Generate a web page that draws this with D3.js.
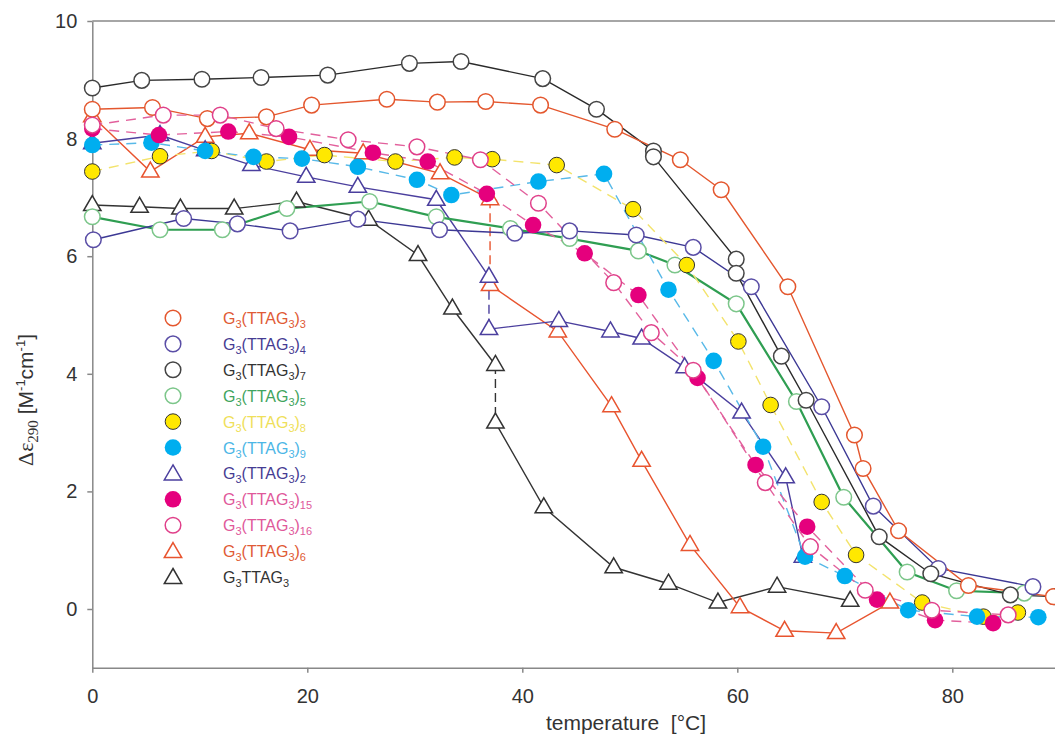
<!DOCTYPE html>
<html>
<head>
<meta charset="utf-8">
<script src="https://cdn.jsdelivr.net/npm/d3@7"></script>
<style>
  body { margin: 0; background: #fff; }
  svg { display: block; }
  text { font-family: "Liberation Sans", Arial, sans-serif; }
</style>
</head>
<body>
<svg id="chart" width="1055" height="737"></svg>
<script>
// [temperature °C, Δε290]
const g3ttag3_3 = [[0, 8.50], [5.6, 8.53], [10.7, 8.34], [16.2, 8.37], [20.4, 8.57], [27.4, 8.67], [32.1, 8.62], [36.6, 8.63], [41.7, 8.57], [48.6, 8.16], [54.7, 7.64], [58.5, 7.13], [64.7, 5.48], [70.9, 2.96], [71.7, 2.39], [75.0, 1.33], [81.5, 0.40], [89.4, 0.21]];
const g3ttag3_4 = [[0.1, 6.28], [8.5, 6.64], [13.5, 6.55], [18.4, 6.43], [24.7, 6.63], [32.3, 6.45], [39.3, 6.39], [44.4, 6.43], [50.6, 6.36], [55.9, 6.15], [61.3, 5.48], [67.85, 3.44], [72.65, 1.75], [78.7, 0.69], [87.5, 0.38]];
const g3ttag3_7 = [[0, 8.86], [4.6, 8.99], [10.2, 9.01], [15.7, 9.04], [21.9, 9.08], [29.5, 9.28], [34.3, 9.31], [41.9, 9.02], [46.9, 8.50], [52.2, 7.79], [52.2, 7.69], [59.9, 5.95], [59.9, 5.71], [64.1, 4.30], [66.4, 3.55], [73.2, 1.23], [78.0, 0.60], [85.4, 0.24], [89.5, 0.21]];
const g3ttag3_5 = [[0, 6.67], [6.3, 6.45], [12.1, 6.45], [18.1, 6.81], [25.8, 6.93], [32.0, 6.67], [38.9, 6.47], [44.4, 6.30], [50.8, 6.09], [54.2, 5.85], [59.9, 5.19], [65.5, 3.53], [69.9, 1.90], [75.8, 0.63], [80.4, 0.31], [86.7, 0.27]];
const g3ttag3_8 = [[0, 7.44], [6.3, 7.70], [11.1, 7.79], [16.2, 7.61], [21.6, 7.72], [28.2, 7.61], [33.7, 7.68], [37.2, 7.65], [43.2, 7.55], [50.3, 6.80], [55.3, 5.85], [60.1, 4.55], [63.1, 3.47], [67.85, 1.82], [71.05, 0.92], [77.2, 0.11], [82.9, -0.13], [86.1, -0.06]];
const g3ttag3_9 = [[0, 7.89], [5.5, 7.93], [10.5, 7.79], [15.0, 7.69], [19.5, 7.66], [24.7, 7.52], [30.2, 7.30], [33.4, 7.04], [41.5, 7.27], [47.6, 7.40], [53.6, 5.43], [57.8, 4.22], [62.4, 2.76], [66.3, 0.89], [70.0, 0.56], [75.9, -0.02], [82.3, -0.13], [88.0, -0.14]];
const g3ttag3_2 = [[0, 7.92], [6.3, 8.06], [10.5, 7.80], [14.8, 7.55], [19.9, 7.35], [24.7, 7.18], [32.0, 6.96], [36.9, 5.65], [36.9, 4.76], [43.4, 4.90], [48.2, 4.72], [51.1, 4.60], [55.1, 4.11], [60.4, 3.34], [64.5, 2.24], [66.1, 0.89]];
const g3ttag3_15 = [[0, 8.17], [6.2, 8.06], [12.65, 8.12], [18.3, 8.03], [26.1, 7.76], [31.2, 7.61], [36.7, 7.06], [41.0, 6.53], [45.8, 6.05], [50.8, 5.34], [56.3, 3.93], [61.7, 2.45], [66.5, 1.40], [73.0, 0.16], [78.4, -0.19], [83.8, -0.24]];
const g3ttag3_16 = [[0, 8.23], [6.6, 8.40], [11.9, 8.40], [17.1, 8.17], [23.8, 7.98], [30.2, 7.86], [36.1, 7.64], [41.5, 6.90], [48.5, 5.55], [52.0, 4.70], [55.9, 4.06], [62.6, 2.15], [66.8, 1.06], [71.9, 0.32], [78.1, -0.02], [85.2, -0.10]];
const g3ttag3_6 = [[0, 8.38], [5.4, 7.44], [10.5, 8.03], [14.6, 8.09], [20.25, 7.81], [25.2, 7.75], [32.35, 7.41], [37.0, 6.97], [37.0, 5.51], [43.3, 4.72], [48.3, 3.45], [51.1, 2.52], [55.6, 1.09], [60.25, 0.03], [64.4, -0.37], [69.2, -0.41], [74.2, 0.11]];
const g3ttag3 = [[0, 6.87], [4.4, 6.84], [8.2, 6.81], [13.2, 6.81], [19.0, 6.93], [25.7, 6.62], [30.3, 6.02], [33.5, 5.11], [37.5, 4.15], [37.5, 3.17], [42.0, 1.73], [48.5, 0.71], [53.6, 0.43], [58.2, 0.11], [63.7, 0.38], [70.5, 0.14]];

const yTicks = [0, 2, 4, 6, 8, 10];
const xTicks = [0, 20, 40, 60, 80];

// legend order as in the figure; jump = index where the 37 °C step is drawn dashed
const series = [
  { label: "G_{3}(TTAG_{3})_{3}", data: g3ttag3_3, shape: "circle", stroke: "#e4572e", fill: "#fff", line: "#e4572e", text: "#e05a35" },
  { label: "G_{3}(TTAG_{3})_{4}", data: g3ttag3_4, shape: "circle", stroke: "#5a4ea6", fill: "#fff", line: "#3c3894", text: "#463c93" },
  { label: "G_{3}(TTAG_{3})_{7}", data: g3ttag3_7, shape: "circle", stroke: "#444", fill: "#fff", line: "#2a2a2a", text: "#333" },
  { label: "G_{3}(TTAG_{3})_{5}", data: g3ttag3_5, shape: "circle", stroke: "#7cc68a", fill: "#fff", line: "#2f9e52", text: "#3fa45e", width: 2.2 },
  { label: "G_{3}(TTAG_{3})_{8}", data: g3ttag3_8, shape: "circle", stroke: "#333", fill: "#ffe800", line: "#f3e36c", text: "#efe05a", dash: "10,7", sw: 1 },
  { label: "G_{3}(TTAG_{3})_{9}", data: g3ttag3_9, shape: "dot", stroke: "none", fill: "#00aeef", line: "#58b9e8", text: "#4cb6e6", dash: "10,7" },
  { label: "G_{3}(TTAG_{3})_{2}", data: g3ttag3_2, shape: "triangle", stroke: "#4b3f9e", fill: "#fff", line: "#4b3f9e", text: "#463c93", jump: 8 },
  { label: "G_{3}(TTAG_{3})_{15}", data: g3ttag3_15, shape: "dot", stroke: "none", fill: "#e5007d", line: "#e2609c", text: "#e0589a", dash: "10,7" },
  { label: "G_{3}(TTAG_{3})_{16}", data: g3ttag3_16, shape: "circle", stroke: "#e0408a", fill: "#fff", line: "#e2609c", text: "#e0589a", dash: "10,7" },
  { label: "G_{3}(TTAG_{3})_{6}", data: g3ttag3_6, shape: "triangle", stroke: "#e8542f", fill: "#fff", line: "#e8542f", text: "#e05a35", jump: 8 },
  { label: "G_{3}TTAG_{3}", data: g3ttag3, shape: "triangle", stroke: "#333", fill: "#fff", line: "#333", text: "#333", jump: 9 }
];

const svg = d3.select("#chart");
const x = d3.scaleLinear().domain([0, 90]).range([92.3, 1059.8]);
const y = d3.scaleLinear().domain([-1, 10]).range([667.8, 21]);

// frame top line
svg.append("line")
  .attr("x1", x(0)).attr("x2", x(90))
  .attr("y1", y(10)).attr("y2", y(10))
  .attr("stroke", "#888").attr("stroke-width", 1.5);

const yAxis = svg.append("g")
  .attr("transform", `translate(${x(0)},0)`)
  .call(d3.axisLeft(y).tickValues(yTicks).tickSize(5).tickSizeOuter(0).tickPadding(10));
const xAxis = svg.append("g")
  .attr("transform", `translate(0,${y(-1)})`)
  .call(d3.axisBottom(x).tickValues(xTicks).tickSize(5).tickSizeOuter(0).tickPadding(16));

[yAxis, xAxis].forEach(g => {
  g.select(".domain").attr("stroke", "#888").attr("stroke-width", 1.5);
  g.selectAll(".tick line").attr("stroke", "#888").attr("stroke-width", 1.5);
  g.selectAll(".tick text").attr("fill", "#333").style("font-size", "20px")
    .style("font-family", "'Liberation Sans', Arial, sans-serif");
});

// axis titles
svg.append("text")
  .attr("x", 626).attr("y", 730)
  .attr("text-anchor", "middle")
  .attr("fill", "#333")
  .style("font-size", "21px")
  .text("temperature\u00a0\u00a0[°C]");

const yt = svg.append("text")
  .attr("transform", "translate(33,400) rotate(-90)")
  .attr("text-anchor", "middle")
  .attr("fill", "#333")
  .style("font-size", "21px");
yt.append("tspan").style("font-family", "'Liberation Serif', serif").style("font-size", "22px").text("Δε");
yt.append("tspan").style("font-family", "'Liberation Serif', serif").style("font-size", "15px").attr("dy", 5).text("290");
yt.append("tspan").attr("dy", -5).text("\u00a0[M");
yt.append("tspan").style("font-size", "13px").attr("dy", -8).text("-1");
yt.append("tspan").attr("dy", 8).text("cm");
yt.append("tspan").style("font-size", "13px").attr("dy", -8).text("-1");
yt.append("tspan").attr("dy", 8).text("]");

// markers
const triPath = "M0,-9.5L8.7,5.5L-8.7,5.5Z";
function drawMarker(g, s, px, py) {
  if (s.shape === "triangle") {
    g.append("path").attr("d", triPath)
      .attr("transform", `translate(${px},${py})`)
      .attr("fill", s.fill).attr("stroke", s.stroke).attr("stroke-width", 1.5);
  } else {
    g.append("circle").attr("cx", px).attr("cy", py)
      .attr("r", s.shape === "dot" ? 8.3 : 7.8)
      .attr("fill", s.fill).attr("stroke", s.stroke)
      .attr("stroke-width", s.sw || 1.5);
  }
}

const lineGen = d3.line().x(d => x(d[0])).y(d => y(d[1]));
const plot = svg.append("g");
const lines = plot.append("g");
const marks = plot.append("g");

// draw order for overlaps
const drawOrder = [10, 9, 6, 3, 1, 2, 0, 4, 5, 7, 8];
drawOrder.forEach(i => {
  const s = series[i];
  const width = s.width || 1.4;
  if (s.jump) {
    lines.append("path").attr("d", lineGen(s.data.slice(0, s.jump)))
      .attr("fill", "none").attr("stroke", s.line).attr("stroke-width", width);
    lines.append("path").attr("d", lineGen(s.data.slice(s.jump - 1, s.jump + 1)))
      .attr("fill", "none").attr("stroke", s.line).attr("stroke-width", width)
      .attr("stroke-dasharray", "9,5");
    lines.append("path").attr("d", lineGen(s.data.slice(s.jump)))
      .attr("fill", "none").attr("stroke", s.line).attr("stroke-width", width);
  } else {
    lines.append("path").attr("d", lineGen(s.data))
      .attr("fill", "none").attr("stroke", s.line).attr("stroke-width", width)
      .attr("stroke-dasharray", s.dash || null);
  }
});
drawOrder.forEach(i => {
  const s = series[i];
  s.data.forEach(d => drawMarker(marks, s, x(d[0]), y(d[1])));
});

// legend
const ly = d3.scalePoint().domain(series.map(s => s.label)).range([318, 577]);
const legend = svg.append("g");
series.forEach(s => {
  const cy = ly(s.label);
  drawMarker(legend, s, 173, cy + (s.shape === "triangle" ? 1 : 0));
  const t = legend.append("text")
    .attr("x", 223).attr("y", cy + 6)
    .attr("fill", s.text)
    .style("font-size", "16px");
  const parts = s.label.split(/_\{(\d+)\}/);
  let shifted = false;
  parts.forEach((p, k) => {
    if (p === "") return;
    const isSub = k % 2 === 1;
    const ts = t.append("tspan").text(p);
    if (isSub) {
      ts.style("font-size", "11px").attr("dy", shifted ? 0 : 4);
      shifted = true;
    } else {
      if (shifted) ts.attr("dy", -4);
      shifted = false;
    }
  });
});
</script>
</body>
</html>
